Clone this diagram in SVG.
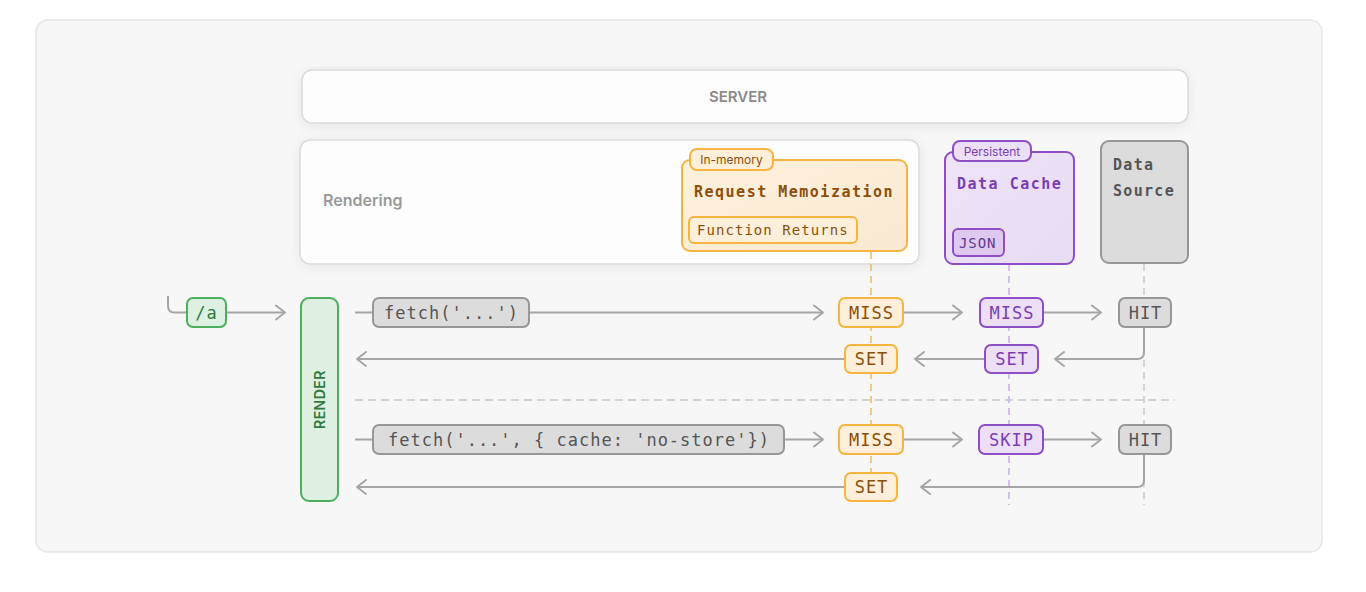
<svg xmlns="http://www.w3.org/2000/svg" width="1366" height="592" viewBox="0 0 1366 592">
<style>
.mono{font-family:"DejaVu Sans Mono","Liberation Mono",monospace}
.sans{font-family:Inter,"Liberation Sans",sans-serif}
.ln{fill:none;stroke:#a6a6a6;stroke-width:2}
.arr{marker-end:url(#chev)}
.o-box{fill:#fdefd9;stroke:#f5b540;stroke-width:2}
.o-txt{fill:#8b4f0d}
.p-box{fill:#ecdff6;stroke:#8e4ec6;stroke-width:2}
.p-txt{fill:#7a3db5}
.g-box{fill:#dcdcdc;stroke:#979797;stroke-width:2}
.g-txt{fill:#555}
.gr-box{fill:#ddf0e2;stroke:#4caf5c;stroke-width:2}
.gr-txt{fill:#2f7a3c}
.row{font-size:17px;letter-spacing:1px;text-anchor:middle}
</style>
<defs>
<marker id="chev" viewBox="-12 -9 15 18" refX="0" refY="0" markerWidth="15" markerHeight="18" markerUnits="userSpaceOnUse" orient="auto">
<path d="M-9,-7 L0,0 L-9,7" fill="none" stroke="#a6a6a6" stroke-width="2" stroke-linejoin="round" stroke-linecap="round"/>
</marker>
<filter id="sh" x="-10%" y="-30%" width="120%" height="160%">
<feDropShadow dx="0" dy="2" stdDeviation="6" flood-color="#000" flood-opacity="0.07"/>
</filter>
<linearGradient id="og" x1="0" y1="0" x2="1" y2="1">
<stop offset="0" stop-color="#fdf1dc"/><stop offset="1" stop-color="#fbe9d2"/>
</linearGradient>
<linearGradient id="pg" x1="0" y1="0" x2="1" y2="1">
<stop offset="0" stop-color="#efe3f8"/><stop offset="1" stop-color="#e8dcf3"/>
</linearGradient>
</defs>

<rect id="container" x="36" y="20" width="1286" height="532" rx="12" fill="#f7f7f7" stroke="#e6e6e6" stroke-width="1.5"/>

<g id="server">
<rect x="302" y="70" width="886" height="53" rx="10" fill="#fdfdfd" stroke="#dadada" stroke-width="1.5" filter="url(#sh)"/>
<text x="738" y="102" class="sans" font-size="15" font-weight="600" fill="#8a8a8a" text-anchor="middle">SERVER</text>
</g>

<g id="rendering">
<rect x="300" y="140" width="619" height="124" rx="10" fill="#fdfdfd" stroke="#dadada" stroke-width="1.5" filter="url(#sh)"/>
<text x="323" y="206" class="sans" font-size="16" font-weight="600" fill="#999">Rendering</text>
</g>

<g id="lifelines" fill="none" stroke-width="1.6" stroke-dasharray="7 5">
<line x1="871" y1="252" x2="871" y2="504" stroke="#f5be55"/>
<line x1="1009" y1="264" x2="1009" y2="505" stroke="#cfaeea"/>
<line x1="1144" y1="264" x2="1144" y2="505" stroke="#cccccc"/>
</g>

<g id="request-memoization">
<rect x="682" y="160" width="225" height="91" rx="8" fill="url(#og)" stroke="#f5b540" stroke-width="2"/>
<rect x="690" y="149" width="83" height="21" rx="7" class="o-box"/>
<text x="731.5" y="164" class="sans o-txt" font-size="12" text-anchor="middle">In-memory</text>
<text x="694" y="197" class="mono o-txt" font-size="15" font-weight="bold" letter-spacing="1.5">Request Memoization</text>
<rect x="689" y="217" width="168" height="26" rx="5" class="o-box"/>
<text x="697" y="235" class="mono o-txt" font-size="14" letter-spacing="1.05">Function Returns</text>
</g>

<g id="data-cache">
<rect x="945" y="152" width="129" height="112" rx="8" fill="url(#pg)" stroke="#8e4ec6" stroke-width="2"/>
<rect x="953" y="141" width="78" height="20" rx="7" class="p-box"/>
<text x="992" y="156" class="sans p-txt" font-size="12" text-anchor="middle">Persistent</text>
<text x="957" y="189" class="mono p-txt" font-size="15" font-weight="bold" letter-spacing="1.5">Data Cache</text>
<rect x="953" y="229" width="51" height="27" rx="5" fill="#dfc9f0" stroke="#8e4ec6" stroke-width="2"/>
<text x="959" y="248" class="mono" font-size="14" letter-spacing="0.9" fill="#5f3a88">JSON</text>
</g>

<g id="data-source">
<rect x="1101" y="141" width="87" height="122" rx="8" class="g-box"/>
<text x="1113" y="170" class="mono g-txt" font-size="15" font-weight="bold" letter-spacing="1.3">Data</text>
<text x="1113" y="196" class="mono g-txt" font-size="15" font-weight="bold" letter-spacing="1.3">Source</text>
</g>

<g id="connectors">
<path class="ln" d="M168,296 V306 Q168,312.5 174.5,312.5 H187"/>
<path class="ln arr" d="M226,312.5 H285"/>
<path class="ln" d="M355,312.5 H373"/>
<path class="ln arr" d="M529,312.5 H823"/>
<path class="ln arr" d="M903,312.5 H962"/>
<path class="ln arr" d="M1043,312.5 H1101"/>
<path class="ln arr" d="M1144,327 V352 Q1144,359 1137,359 H1055"/>
<path class="ln arr" d="M985,359 H915"/>
<path class="ln arr" d="M845,359 H357"/>
<path d="M355,400 H1175" fill="none" stroke="#c8c8c8" stroke-width="1.6" stroke-dasharray="8 5"/>
<path class="ln" d="M355,439.5 H373"/>
<path class="ln arr" d="M784,439.5 H823"/>
<path class="ln arr" d="M903,439.5 H962"/>
<path class="ln arr" d="M1043,439.5 H1101"/>
<path class="ln arr" d="M1144,454 V480 Q1144,487 1137,487 H921"/>
<path class="ln arr" d="M845,487 H357"/>
</g>

<g id="route-a">
<rect x="187" y="298" width="39" height="29" rx="6" class="gr-box"/>
<text x="206.5" y="318.5" class="mono gr-txt row">/a</text>
</g>

<g id="render">
<rect x="301" y="298" width="37" height="203" rx="8" class="gr-box"/>
<text transform="translate(325,399.5) rotate(-90)" class="sans gr-txt" font-size="14" font-weight="600" letter-spacing="0.5" text-anchor="middle">RENDER</text>
</g>

<g id="fetch-1">
<rect x="373" y="298" width="156" height="29" rx="6" class="g-box"/>
<text x="451.5" y="318.5" class="mono g-txt row">fetch('...')</text>
</g>
<g id="memo-miss-1">
<rect x="839" y="298" width="64" height="29" rx="6" class="o-box"/>
<text x="871.5" y="318.5" class="mono o-txt row">MISS</text>
</g>
<g id="cache-miss-1">
<rect x="980" y="298" width="63" height="29" rx="6" class="p-box"/>
<text x="1012" y="318.5" class="mono p-txt row">MISS</text>
</g>
<g id="hit-1">
<rect x="1119" y="298" width="52" height="29" rx="6" class="g-box"/>
<text x="1145.5" y="318.5" class="mono g-txt row">HIT</text>
</g>
<g id="cache-set-1">
<rect x="985" y="345" width="53" height="28" rx="6" class="p-box"/>
<text x="1012" y="365" class="mono p-txt row">SET</text>
</g>
<g id="memo-set-1">
<rect x="845" y="345" width="52" height="28" rx="6" class="o-box"/>
<text x="871.5" y="365" class="mono o-txt row">SET</text>
</g>

<g id="fetch-2">
<rect x="373" y="425" width="411" height="29" rx="6" class="g-box"/>
<text x="579" y="445.5" class="mono g-txt row">fetch('...', { cache: 'no-store'})</text>
</g>
<g id="memo-miss-2">
<rect x="839" y="425" width="64" height="29" rx="6" class="o-box"/>
<text x="871.5" y="445.5" class="mono o-txt row">MISS</text>
</g>
<g id="cache-skip-2">
<rect x="979" y="425" width="64" height="29" rx="6" class="p-box"/>
<text x="1011.5" y="445.5" class="mono p-txt row">SKIP</text>
</g>
<g id="hit-2">
<rect x="1119" y="425" width="52" height="29" rx="6" class="g-box"/>
<text x="1145.5" y="445.5" class="mono g-txt row">HIT</text>
</g>
<g id="memo-set-2">
<rect x="845" y="473" width="52" height="28" rx="6" class="o-box"/>
<text x="871.5" y="493" class="mono o-txt row">SET</text>
</g>
</svg>
